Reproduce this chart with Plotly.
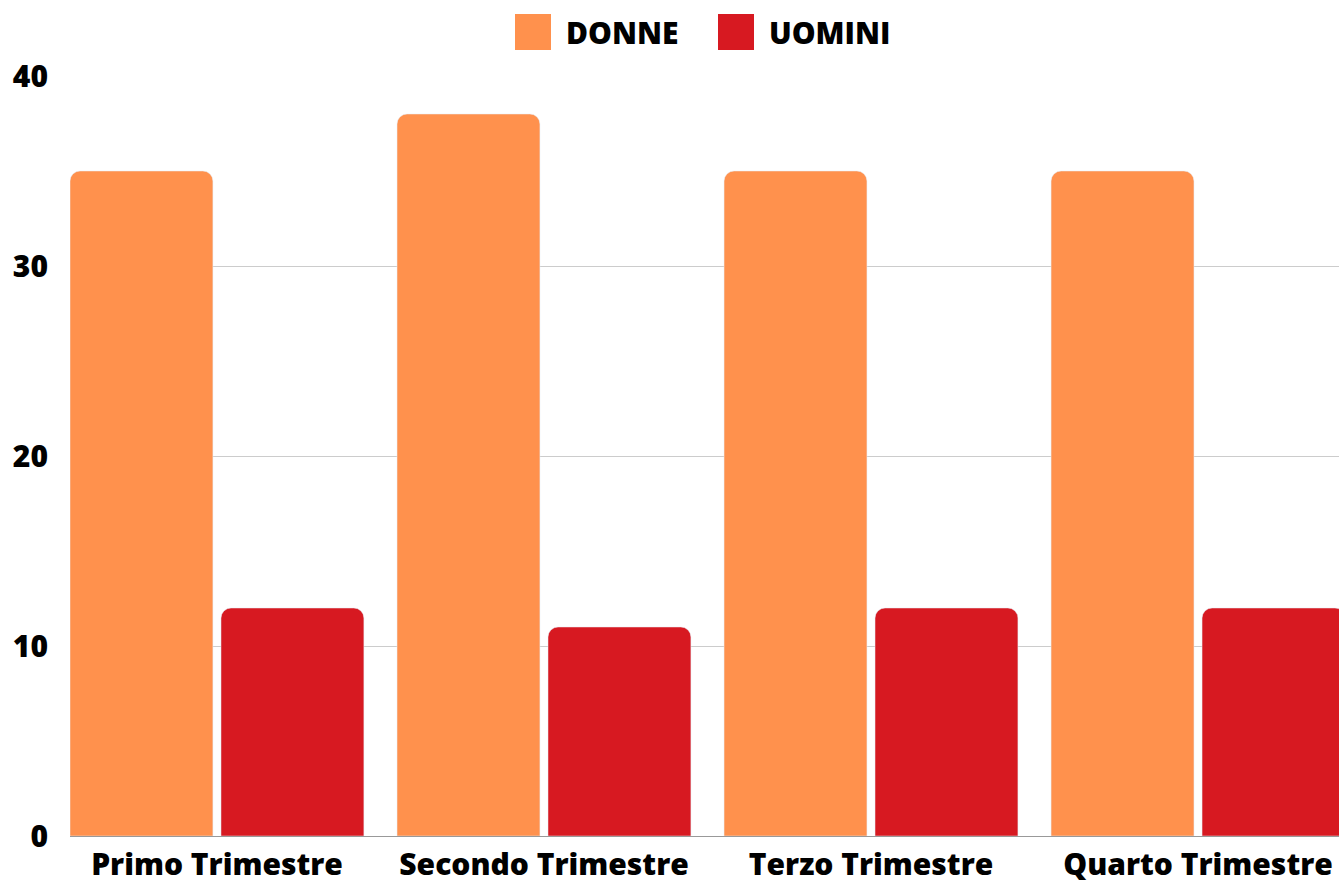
import plotly.graph_objects as go

categories = ["Primo Trimestre", "Secondo Trimestre", "Terzo Trimestre", "Quarto Trimestre"]
donne = [35, 38, 35, 35]
uomini = [12, 11, 12, 12]
series_names = ["DONNE", "UOMINI"]
colors = ["#FF914D", "#D71921"]
y_ticks = [0, 10, 20, 30, 40]

FONT = "Open Sans"
FS = 30

fig = go.Figure()
fig.add_trace(go.Bar(x=categories, y=donne, name=series_names[0], marker_color=colors[0],
                     width=0.437, offset=-0.4495, showlegend=False))
fig.add_trace(go.Bar(x=categories, y=uomini, name=series_names[1], marker_color=colors[1],
                     width=0.437, offset=0.0122, showlegend=False))

# custom legend (large squares)
legend_items = [(515, 566), (718, 769)]
for (sx, tx), name, col in zip(legend_items, series_names, colors):
    fig.add_shape(type="rect", xref="paper", yref="paper",
                  x0=(sx - 70) / 1269, x1=(sx + 36 - 70) / 1269,
                  y0=(881 - 45 - 50) / 760, y1=(881 - 45 - 14) / 760,
                  fillcolor=col, line_width=0)
    fig.add_annotation(text=name, xref="paper", yref="paper",
                       x=(tx - 72) / 1269, y=(881 - 45 - 32) / 760,
                       xanchor="left", yanchor="middle", showarrow=False,
                       font=dict(family=FONT, size=FS, color="black", weight=800))

fig.update_layout(
    width=1339, height=881,
    margin=dict(l=70, r=0, t=76, b=45, autoexpand=False),
    plot_bgcolor="white", paper_bgcolor="white",
    barmode="group",
    barcornerradius=10,
    font=dict(family=FONT, size=FS, color="black", weight=800),
)
fig.update_xaxes(range=[-0.4495, 3.431], showgrid=False, showline=True, linecolor="#999999",
                 linewidth=1, ticks="", tickfont=dict(family=FONT, size=FS, weight=800, color="black"),
                 ticklabelstandoff=2, automargin=False)
fig.update_yaxes(range=[0, 40], tickvals=y_ticks, showgrid=True, gridcolor="#CCCCCC", gridwidth=1,
                 zeroline=False, showline=False, ticks="",
                 tickfont=dict(family=FONT, size=FS, weight=800, color="black"),
                 ticklabelstandoff=21, automargin=False)

fig.write_html("out.html", config={"displayModeBar": False},
               post_script="document.body.style.margin='0';document.body.style.overflow='hidden';")
